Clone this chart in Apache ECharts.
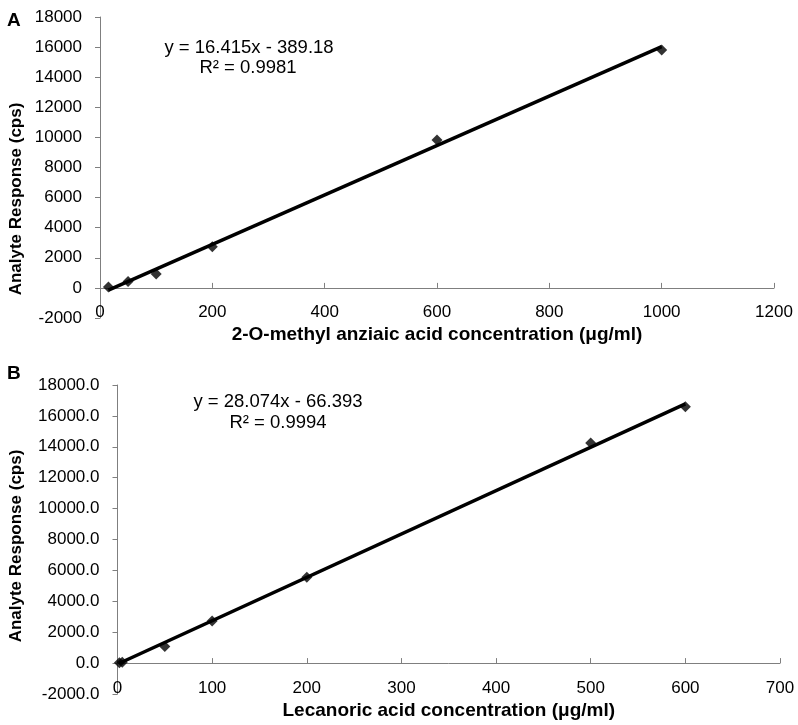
<!DOCTYPE html>
<html>
<head>
<meta charset="utf-8">
<script src="https://cdn.jsdelivr.net/npm/echarts@6/dist/echarts.min.js"></script>
<style>
  html, body { margin: 0; padding: 0; background: #fff; }
  #chart { width: 798px; height: 725px; }
</style>
</head>
<body>
<div id="chart"></div>
<script>
// panel A: 2-O-methyl anziaic acid
const concA = [15, 50, 100, 200, 600, 1000];
const respA = [60, 420, 920, 2730, 9830, 15800];
const trendA = [[15, -143], [1000, 16026]];

// panel B: lecanoric acid
const concB = [2, 5, 50, 100, 200, 500, 600];
const respB = [20, 60, 1080, 2720, 5550, 14250, 16600];
const trendB = [[2, -10], [600, 16778]];

const FONT = '"Liberation Sans", Arial, sans-serif';
const axisGray = '#7f7f7f';

function pairs(xs, ys) {
  return xs.map((x, i) => [x, ys[i]]);
}

// labels are laid out from the grid bottom, pull them up next to the zero line
function xAxisOf(grid, max, interval, name, labelMargin) {
  return {
    type: 'value', gridIndex: grid, min: 0, max: max, interval: interval,
    name: name, nameLocation: 'middle', nameGap: 7,
    nameTextStyle: { fontFamily: FONT, fontSize: 19, fontWeight: 'bold', color: '#000' },
    axisLine: { show: true, onZero: true, lineStyle: { color: axisGray, width: 1 } },
    axisTick: { show: true, inside: true, length: 5, lineStyle: { color: axisGray } },
    axisLabel: { fontFamily: FONT, fontSize: 17, color: '#000', margin: labelMargin, formatter: v => String(v) },
    splitLine: { show: false }
  };
}

function yAxisOf(grid, decimals) {
  return {
    type: 'value', gridIndex: grid, min: -2000, max: 18000, interval: 2000,
    axisLine: { show: true, onZero: false, lineStyle: { color: axisGray, width: 1 } },
    axisTick: { show: true, inside: false, length: 5, lineStyle: { color: axisGray } },
    axisLabel: {
      fontFamily: FONT, fontSize: 17, color: '#000', margin: 18,
      formatter: v => v.toFixed(decimals)
    },
    splitLine: { show: false }
  };
}

const chart = echarts.init(document.getElementById('chart'));
chart.setOption({
  animation: false,
  backgroundColor: '#fff',
  grid: [
    { left: 100, top: 17, width: 674, height: 301 },
    { left: 117.5, top: 385, width: 662.5, height: 309 }
  ],
  xAxis: [
    xAxisOf(0, 1200, 200, '2-O-methyl anziaic acid concentration (μg/ml)', -14),
    xAxisOf(1, 700, 100, 'Lecanoric acid concentration (μg/ml)', -14)
  ],
  yAxis: [yAxisOf(0, 0), yAxisOf(1, 1)],
  graphic: [
    { type: 'text', left: 7, top: 11, style: { text: 'A', font: 'bold 19px ' + FONT, fill: '#000' } },
    { type: 'text', left: 7, top: 364, style: { text: 'B', font: 'bold 19px ' + FONT, fill: '#000' } },
    { type: 'text', x: 16, y: 199, rotation: Math.PI / 2, style: { text: 'Analyte Response (cps)', font: 'bold 17px ' + FONT, fill: '#000', align: 'center', verticalAlign: 'middle' } },
    { type: 'text', x: 16, y: 546, rotation: Math.PI / 2, style: { text: 'Analyte Response (cps)', font: 'bold 17px ' + FONT, fill: '#000', align: 'center', verticalAlign: 'middle' } },
    { type: 'text', x: 249, y: 48, style: { text: 'y = 16.415x - 389.18', font: '18.5px ' + FONT, fill: '#000', align: 'center', verticalAlign: 'middle' } },
    { type: 'text', x: 248, y: 68, style: { text: 'R² = 0.9981', font: '18.5px ' + FONT, fill: '#000', align: 'center', verticalAlign: 'middle' } },
    { type: 'text', x: 278, y: 402, style: { text: 'y = 28.074x - 66.393', font: '18.5px ' + FONT, fill: '#000', align: 'center', verticalAlign: 'middle' } },
    { type: 'text', x: 278, y: 423, style: { text: 'R² = 0.9994', font: '18.5px ' + FONT, fill: '#000', align: 'center', verticalAlign: 'middle' } }
  ],
  series: [
    { type: 'scatter', xAxisIndex: 0, yAxisIndex: 0, symbol: 'diamond', symbolSize: 11,
      itemStyle: { color: '#000' }, data: pairs(concA, respA) },
    { type: 'line', xAxisIndex: 0, yAxisIndex: 0, showSymbol: false, symbol: 'none',
      lineStyle: { color: '#000', width: 3.5 }, data: trendA },
    { type: 'scatter', xAxisIndex: 1, yAxisIndex: 1, symbol: 'diamond', symbolSize: 11,
      itemStyle: { color: '#000' }, data: pairs(concB, respB) },
    { type: 'line', xAxisIndex: 1, yAxisIndex: 1, showSymbol: false, symbol: 'none',
      lineStyle: { color: '#000', width: 3.5 }, data: trendB }
  ]
});
</script>
</body>
</html>
